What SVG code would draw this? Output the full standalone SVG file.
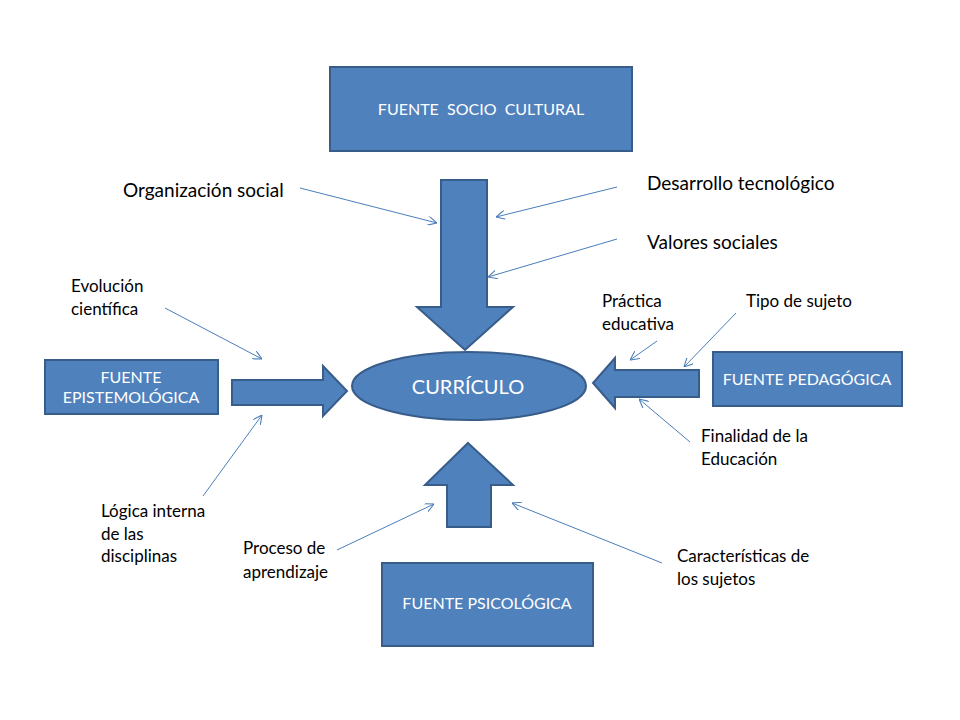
<svg xmlns="http://www.w3.org/2000/svg" width="960" height="720" viewBox="0 0 960 720">
  <style>
    .shape { fill: #4F81BD; stroke: #385D8A; stroke-width: 2; }
    .boxtxt { font-family: Lato, "Liberation Sans", sans-serif; font-size: 16px; fill: #FFFFFF; text-anchor: middle; white-space: pre; }
    .lbl { font-family: Lato, "Liberation Sans", sans-serif; font-size: 17px; fill: #000000; }
    .lbl-l { font-family: Lato, "Liberation Sans", sans-serif; font-size: 19px; fill: #000000; }
    .conn { stroke: #4A7EBB; stroke-width: 1; fill: none; marker-end: url(#open); }
  </style>
  <defs>
    <marker id="open" viewBox="0 0 10 10" refX="10" refY="5" markerWidth="9" markerHeight="9" markerUnits="userSpaceOnUse" orient="auto">
      <path d="M0,0 L10,5 L0,10" fill="none" stroke="#4A7EBB" stroke-width="1.2"/>
    </marker>
  </defs>
  <rect width="960" height="720" fill="#FFFFFF"/>

  <g id="fuente-socio-cultural">
    <rect class="shape" x="330" y="67" width="302" height="84"/>
    <text class="boxtxt" x="481" y="115" xml:space="preserve">FUENTE  SOCIO  CULTURAL</text>
  </g>

  <g id="arrow-down">
    <polygon class="shape" points="441,180 487,180 487,307 513,307 465,350 417,307 441,307"/>
  </g>

  <g id="fuente-epistemologica">
    <rect class="shape" x="45" y="360" width="173" height="54"/>
    <text class="boxtxt" x="131" y="383">FUENTE</text>
    <text class="boxtxt" x="131" y="403">EPISTEMOLÓGICA</text>
  </g>

  <g id="arrow-right">
    <polygon class="shape" points="232,380 323,380 323,366 347,391 323,416 323,405 232,405"/>
  </g>

  <g id="curriculo">
    <ellipse class="shape" cx="469" cy="386" rx="117" ry="34"/>
    <text class="boxtxt" x="468" y="394" style="font-size:20px">CURRÍCULO</text>
  </g>

  <g id="arrow-left">
    <polygon class="shape" points="699,370 615,370 615,358 593,383 615,408 615,397 699,397"/>
  </g>

  <g id="fuente-pedagogica">
    <rect class="shape" x="713" y="352" width="189" height="54"/>
    <text class="boxtxt" x="807" y="385">FUENTE PEDAGÓGICA</text>
  </g>

  <g id="arrow-up">
    <polygon class="shape" points="468,443 513,485 491,485 491,527 447,527 447,485 425,485"/>
  </g>

  <g id="fuente-psicologica">
    <rect class="shape" x="382" y="563" width="211" height="83"/>
    <text class="boxtxt" x="487" y="609">FUENTE PSICOLÓGICA</text>
  </g>

  <g id="labels">
    <text class="lbl-l" x="123" y="197">Organización social</text>
    <text class="lbl-l" x="647" y="190">Desarrollo tecnológico</text>
    <text class="lbl-l" x="647" y="249">Valores sociales</text>
    <text class="lbl" x="71" y="292">Evolución</text>
    <text class="lbl" x="71" y="315">científica</text>
    <text class="lbl" x="602" y="307">Práctica</text>
    <text class="lbl" x="602" y="330">educativa</text>
    <text class="lbl" x="746" y="307">Tipo de sujeto</text>
    <text class="lbl" x="701" y="442">Finalidad de la</text>
    <text class="lbl" x="701" y="465">Educación</text>
    <text class="lbl" x="101" y="517">Lógica interna</text>
    <text class="lbl" x="101" y="540">de las</text>
    <text class="lbl" x="101" y="562">disciplinas</text>
    <text class="lbl" x="243" y="554">Proceso de</text>
    <text class="lbl" x="243" y="578">aprendizaje</text>
    <text class="lbl" x="677" y="562">Características de</text>
    <text class="lbl" x="677" y="585">los sujetos</text>
  </g>

  <g id="connectors">
    <line class="conn" x1="300" y1="188" x2="437" y2="223"/>
    <line class="conn" x1="617" y1="187" x2="496" y2="217"/>
    <line class="conn" x1="617" y1="239" x2="488" y2="277"/>
    <line class="conn" x1="165" y1="308" x2="262" y2="359"/>
    <line class="conn" x1="203" y1="496" x2="262" y2="415"/>
    <line class="conn" x1="657" y1="341" x2="630" y2="360"/>
    <line class="conn" x1="736" y1="313" x2="684" y2="367"/>
    <line class="conn" x1="690" y1="442" x2="639" y2="399"/>
    <line class="conn" x1="337" y1="550" x2="434" y2="504"/>
    <line class="conn" x1="662" y1="563" x2="512" y2="503"/>
  </g>
</svg>
